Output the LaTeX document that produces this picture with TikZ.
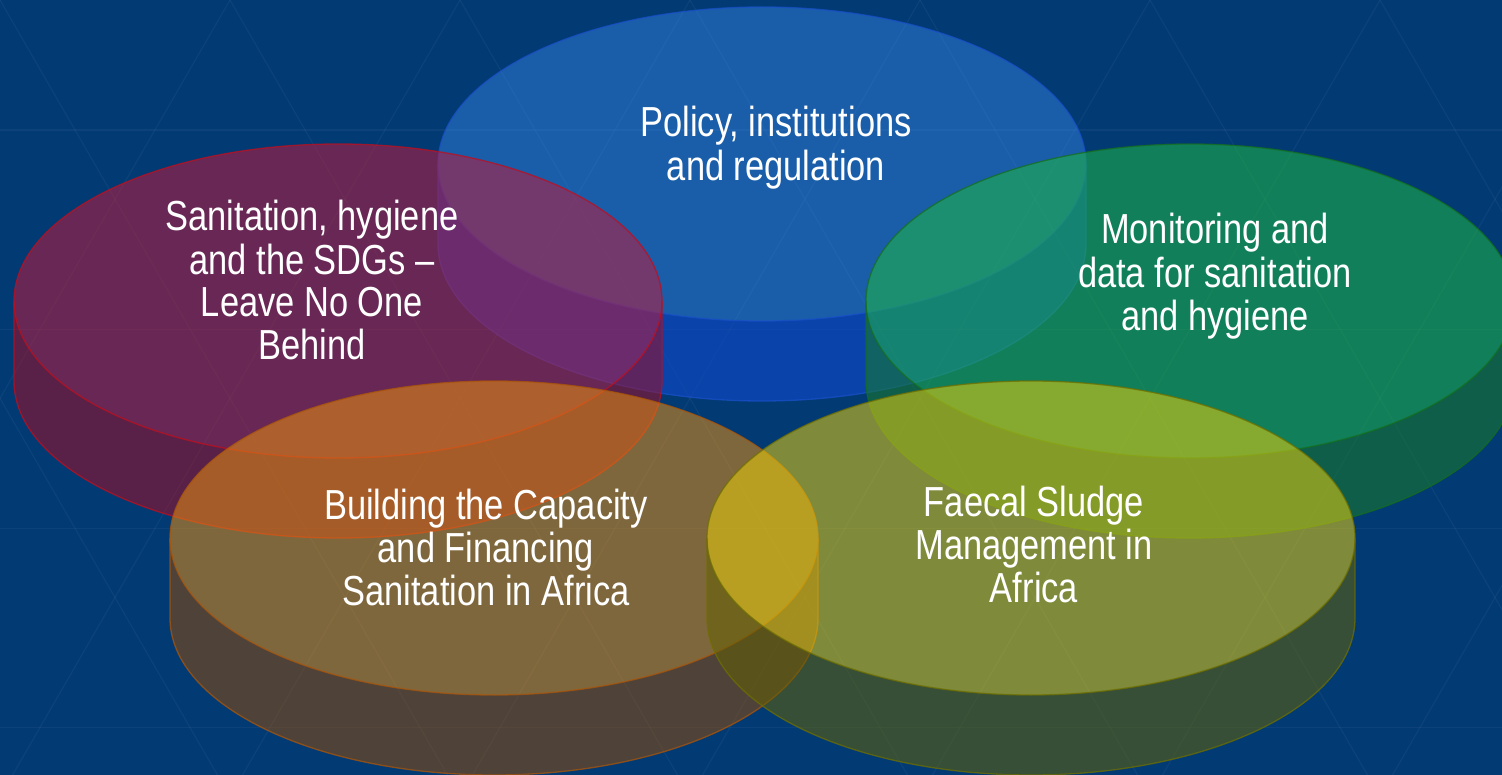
\documentclass[tikz,border=0pt]{standalone}
\usepackage{fontspec}
\setmainfont[FakeStretch=0.82]{Liberation Sans}
\definecolor{bgblue}{RGB}{2,58,116}
\definecolor{blueTop}{RGB}{47,125,216}
\definecolor{blueSide}{RGB}{17,75,213}
\definecolor{blueLine}{RGB}{25,80,200}
\definecolor{purpleTop}{RGB}{189,25,58}
\definecolor{purpleSide}{RGB}{162,14,35}
\definecolor{purpleLine}{RGB}{190,15,30}
\definecolor{greenTop}{RGB}{31,185,67}
\definecolor{greenSide}{RGB}{24,125,40}
\definecolor{greenLine}{RGB}{20,110,30}
\definecolor{orangeTop}{RGB}{231,141,16}
\definecolor{orangeSide}{RGB}{144,75,9}
\definecolor{orangeLine}{RGB}{170,85,10}
\definecolor{yellowTop}{RGB}{231,206,13}
\definecolor{yellowSide}{RGB}{98,97,4}
\definecolor{yellowLine}{RGB}{110,110,0}
% #1 cx, #2 cy, #3 top colour, #4 side colour, #5 line colour
\newcommand\drawdisc[5]{%
  \fill[discfill,#4] (#1-324,#2) -- (#1-324,#2+80)
    arc[start angle=180,end angle=0,x radius=324,y radius=157]
    -- (#1+324,#2)
    arc[start angle=0,end angle=180,x radius=324,y radius=157] -- cycle;
  \fill[discfill,#3] (#1,#2) ellipse [x radius=324,y radius=157];
  \draw[discline,#5] (#1-324,#2) -- (#1-324,#2+80)
    arc[start angle=180,end angle=0,x radius=324,y radius=157]
    -- (#1+324,#2);
  \draw[discline,#5] (#1,#2) ellipse [x radius=324,y radius=157];
}
\tikzset{
  discfill/.style={fill opacity=0.55},
  discline/.style={line width=1.3pt,draw opacity=0.75},
  disclabel/.style={anchor=base,inner sep=0pt,text=white,
    font=\fontsize{42}{42}\selectfont},
  gridline/.style={draw=white,draw opacity=0.045,line width=1.2pt}
}
\begin{document}
\begin{tikzpicture}[x=1pt,y=-1pt]
\useasboundingbox (0,0) rectangle (1502,775);
\fill[bgblue] (0,0) rectangle (1502,775);
\begin{scope}
  \clip (0,0) rectangle (1502,775);
  \foreach \j in {0,...,4} {
    \draw[gridline] (0,{130+\j*199.2}) -- (1502,{130+\j*199.2});
  }
  \foreach \k in {-5,...,12} {
    \draw[gridline] ({\k*230-500},{-866}) -- ({\k*230+500},{866});
    \draw[gridline] ({\k*230+500},{-866}) -- ({\k*230-500},{866});
  }
\end{scope}
\drawdisc{762}{164}{blueTop}{blueSide}{blueLine}
\drawdisc{338}{301}{purpleTop}{purpleSide}{purpleLine}
\drawdisc{1190}{301}{greenTop}{greenSide}{greenLine}
\drawdisc{494}{538}{orangeTop}{orangeSide}{orangeLine}
\drawdisc{1031}{538}{yellowTop}{yellowSide}{yellowLine}
\node[disclabel] (policy) at (776,137)
  {\setlength\tabcolsep{0pt}\begin{tabular}[t]{c}Policy, institutions\\and regulation\end{tabular}};
\node[disclabel] (sdg) at (312,231)
  {\setlength\tabcolsep{0pt}\begin{tabular}[t]{c}Sanitation, hygiene\\and the SDGs –\\Leave No One\\Behind\end{tabular}};
\node[disclabel] (monitor) at (1215,244)
  {\setlength\tabcolsep{0pt}\begin{tabular}[t]{c}Monitoring and\\data for sanitation\\and hygiene\end{tabular}};
\node[disclabel] (capacity) at (486,519)
  {\setlength\tabcolsep{0pt}\begin{tabular}[t]{c}Building the Capacity\\and Financing\\Sanitation in Africa\end{tabular}};
\node[disclabel] (sludge) at (1034,516)
  {\setlength\tabcolsep{0pt}\begin{tabular}[t]{c}Faecal Sludge\\Management in\\Africa\end{tabular}};
\end{tikzpicture}
\end{document}
